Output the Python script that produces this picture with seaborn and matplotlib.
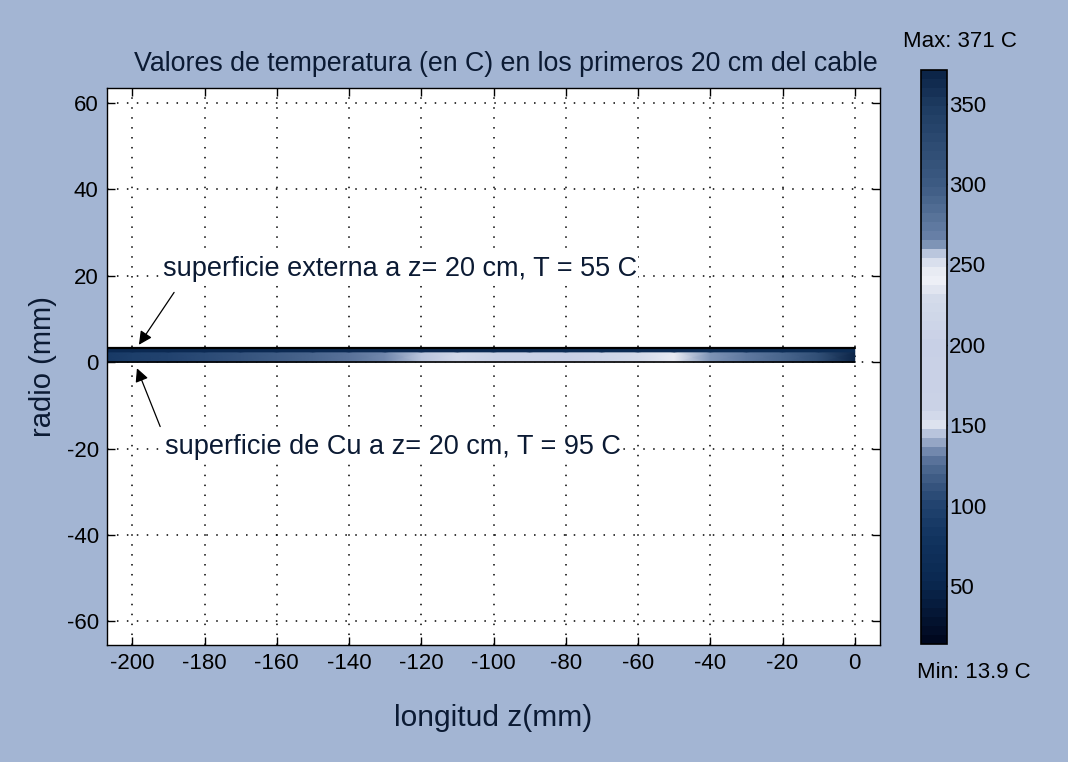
import numpy as np
import matplotlib
matplotlib.use("Agg")
import matplotlib.pyplot as plt
from matplotlib.colors import LinearSegmentedColormap, Normalize
import seaborn as sns

# Axial positions along the cable (mm) and temperatures (C)
z_mm = [-207, -200, -190, -180, -170, -160, -150, -140, -130, -120, -110,
        -100, -90, -80, -70, -60, -50, -40, -30, -20, -10, 0]
t_cobre = [92, 95, 100, 105, 110, 116, 121, 127, 135, 145, 156,
           168, 180, 194, 210, 228, 246, 262, 274, 290, 320, 371]
t_externa = [54, 55, 55, 55, 56, 56, 56, 57, 57, 57, 58,
             58, 58, 59, 59, 60, 60, 60, 61, 61, 62, 62]
r_cobre = [0.0, 2.4]
r_externa = [2.4, 3.2]

t_min, t_max = 13.9, 371
cbar_ticks = [50, 100, 150, 200, 250, 300, 350]
x_ticks = list(range(-200, 1, 20))
y_ticks = list(range(-60, 61, 20))

titulo = "Valores de temperatura (en C) en los primeros 20 cm del cable"
etiqueta_x = "longitud z(mm)"
etiqueta_y = "radio (mm)"
nota_externa = "superficie externa a z= 20 cm, T = 55 C"
nota_cobre = "superficie de Cu a z= 20 cm, T = 95 C"

# colour stops (temperature, colour)
paleta = [
    (13.9, "#00081f"), (50, "#0a2850"), (80, "#123460"), (100, "#234470"),
    (120, "#46628a"), (130, "#6078a0"), (143, "#b0bdd8"), (150, "#dde2ee"),
    (160, "#cad2e6"), (200, "#c8d0e6"), (230, "#d4dbea"), (240, "#eef0f6"),
    (250, "#e4e8f2"), (258, "#b8c4dc"), (265, "#6c84aa"), (300, "#3e5c84"),
    (350, "#1e3c62"), (371, "#0c2548"),
]

sns.set_theme(style="white")
plt.rcParams["font.family"] = ["Liberation Sans", "DejaVu Sans"]
plt.rcParams["axes.unicode_minus"] = False

fondo = "#a3b5d3"
texto = "#0b1a33"

cmap = LinearSegmentedColormap.from_list(
    "cable",
    [((v - t_min) / (t_max - t_min), c) for v, c in paleta],
    N=64,
)
norm = Normalize(vmin=t_min, vmax=t_max)

fig = plt.figure(figsize=(10.68, 7.62), dpi=100, facecolor=fondo)
ax = fig.add_axes([0.1002, 0.1535, 0.7238, 0.731])
ax.set_facecolor("white")

# cable: copper core and outer layer
zc = np.array(z_mm, dtype=float)
for r, t in ((r_cobre, t_cobre), (r_externa, t_externa)):
    Z, R = np.meshgrid(zc, np.array(r))
    T = np.vstack([t, t]).astype(float)
    m = ax.pcolormesh(Z, R, T, cmap=cmap, norm=norm, shading="gouraud", zorder=2)
ax.plot([z_mm[0], z_mm[-1]], [r_externa[1], r_externa[1]], color="black", lw=1.6, zorder=3)
ax.plot([z_mm[0], z_mm[-1]], [r_cobre[0], r_cobre[0]], color="black", lw=1.2, zorder=3)

ax.set_xlim(-207, 7)
ax.set_ylim(-65.5, 63.5)
ax.set_xticks(x_ticks)
ax.set_yticks(y_ticks)
ax.grid(True, color="black", linestyle=(0, (1, 5.5)), linewidth=1.1)
ax.set_axisbelow(True)
ax.tick_params(direction="in", length=6, width=1, top=True, right=True,
               bottom=True, left=True, labelsize=16, colors="black", pad=6)
for s in ax.spines.values():
    s.set_color("black")
    s.set_linewidth(1.0)
    s.set_visible(True)

ax.set_title(titulo, fontsize=19.3, color=texto, pad=12, x=0.516)
ax.set_xlabel(etiqueta_x, fontsize=21.5, color=texto, labelpad=21)
ax.set_ylabel(etiqueta_y, fontsize=21, color=texto, labelpad=7)

flecha = dict(arrowstyle="-|>", color="black", lw=0.9, mutation_scale=20)
ax.annotate("", xy=(-198.6, 3.5), xytext=(-188, 16.7), arrowprops=flecha, zorder=4)
ax.annotate("", xy=(-199, -0.8), xytext=(-192, -15.5), arrowprops=flecha, zorder=4)
caja = dict(facecolor="white", edgecolor="none", pad=1)
ax.text(-191.5, 21.6, nota_externa, fontsize=19.5, color=texto, ha="left",
        va="center", bbox=caja, zorder=4)
ax.text(-191, -19.6, nota_cobre, fontsize=19.5, color=texto, ha="left",
        va="center", bbox=caja, zorder=4)

# colour bar
cax = fig.add_axes([0.862, 0.1549, 0.0243, 0.7533])
cb = fig.colorbar(m, cax=cax, ticks=cbar_ticks)
cb.outline.set_edgecolor("black")
cb.outline.set_linewidth(1.2)
cax.tick_params(direction="in", length=4, width=1, left=True, right=True,
                labelsize=16, colors="black", pad=2)
fig.text(0.899, 0.945, f"Max: {t_max:g} C", fontsize=16, ha="center",
         va="center", color="black")
fig.text(0.9115, 0.118, f"Min: {t_min:g} C", fontsize=16, ha="center",
         va="center", color="black")

fig.savefig("out.png", dpi=100, facecolor=fondo)
